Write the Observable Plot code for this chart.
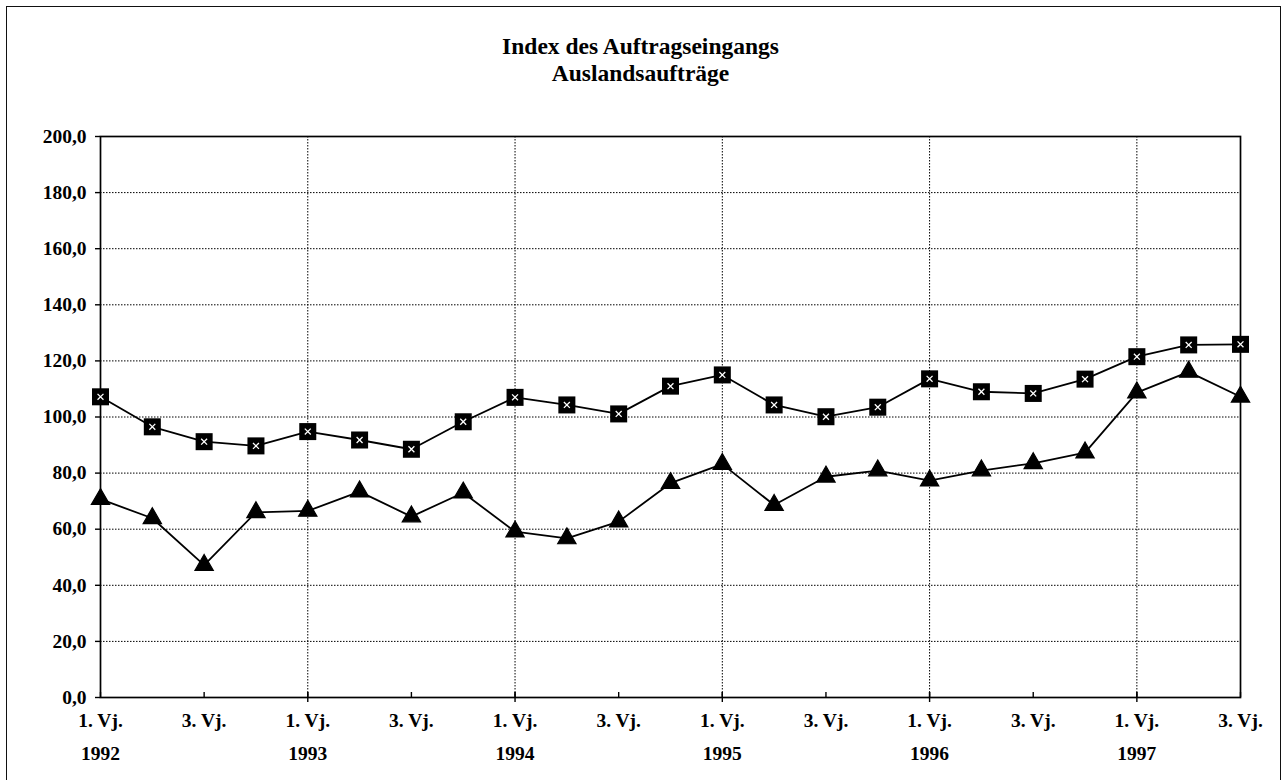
<!DOCTYPE html>
<html>
<head>
<meta charset="utf-8">
<script src="https://cdn.jsdelivr.net/npm/d3@7"></script>
<script src="https://cdn.jsdelivr.net/npm/@observablehq/plot@0.6"></script>
<style>
  html, body { margin: 0; padding: 0; background: #fff; }
  #wrap { position: relative; width: 1283px; height: 780px; overflow: hidden; }
  #border { position: absolute; left: 6px; top: 6px; width: 1275px; height: 790px; border: 1.5px solid #111; box-sizing: border-box; pointer-events: none; }
  #chart { position: absolute; left: 0; top: 0; }
</style>
</head>
<body>
<div id="wrap"><div id="chart"></div><div id="border"></div></div>
<script>
const titleLine1 = "Index des Auftragseingangs";
const titleLine2 = "Auslandsaufträge";

// 23 quarters: 1. Vj. 1992 ... 3. Vj. 1997
const quarterIndex = d3.range(23);

const seriesSquare = [107.2, 96.5, 91.2, 89.7, 94.8, 91.8, 88.5, 98.3, 107.0, 104.3, 101.1, 111.0,
  115.0, 104.3, 100.1, 103.5, 113.6, 109.0, 108.4, 113.5, 121.5, 125.7, 125.9];
const seriesTriangle = [70.7, 63.9, 47.2, 66.0, 66.5, 73.4, 64.5, 73.0, 59.1, 56.7, 62.7, 76.4,
  83.2, 68.6, 78.7, 80.9, 77.3, 80.9, 83.5, 87.3, 108.7, 116.1, 107.2];

const xTicks = [0, 2, 4, 6, 8, 10, 12, 14, 16, 18, 20, 22];
const xTickLabels = ["1. Vj.\n1992", "3. Vj.", "1. Vj.\n1993", "3. Vj.", "1. Vj.\n1994", "3. Vj.",
  "1. Vj.\n1995", "3. Vj.", "1. Vj.\n1996", "3. Vj.", "1. Vj.\n1997", "3. Vj."];
const yearTicks = [4, 8, 12, 16, 20];
const yTicks = [0, 20, 40, 60, 80, 100, 120, 140, 160, 180, 200];
const yTickLabels = ["0,0", "20,0", "40,0", "60,0", "80,0", "100,0", "120,0", "140,0", "160,0", "180,0", "200,0"];
const yGrid = [20, 40, 60, 80, 100, 120, 140, 160, 180];

const sq = quarterIndex.map(i => ({q: i, v: seriesSquare[i]}));
const tr = quarterIndex.map(i => ({q: i, v: seriesTriangle[i]}));

const font = "'Liberation Serif', 'Times New Roman', serif";

const chart = Plot.plot({
  width: 1283,
  height: 780,
  marginLeft: 100,
  marginRight: 43,
  marginTop: 136,
  marginBottom: 83,
  style: {fontFamily: font, fontWeight: "bold", fontSize: "19px", color: "#000", background: "transparent"},
  x: {type: "linear", domain: [0, 22]},
  y: {domain: [0, 200]},
  marks: [
    Plot.ruleY(yGrid, {stroke: "#000", strokeWidth: 1, strokeDasharray: "1.5,1.5"}),
    Plot.ruleX(yearTicks, {stroke: "#000", strokeWidth: 1, strokeDasharray: "1.5,1.5"}),
    Plot.frame({stroke: "#000", strokeWidth: 1.7}),
    Plot.ruleX(xTicks, {x: d => d, y1: 0, y2: 0, insetTop: -5, stroke: "#000", strokeWidth: 1.4}),
    Plot.ruleX(yearTicks, {x: d => d, y1: 0, y2: 0, insetTop: -5, insetBottom: -5, stroke: "#000", strokeWidth: 1.4}),
    Plot.axisY({ticks: yTicks, tickFormat: d => yTickLabels[yTicks.indexOf(d)], tickSize: 5, tickPadding: 9,
      fontSize: 19.5, fontWeight: "bold", fontFamily: font, label: null, strokeWidth: 1.4}),
    Plot.axisX({ticks: xTicks, tickFormat: d => xTickLabels[xTicks.indexOf(d)], tickSize: 0, tickPadding: 7,
      fontSize: 19.5, fontWeight: "bold", fontFamily: font, lineHeight: 1.65, label: null}),
    Plot.line(sq, {x: "q", y: "v", stroke: "#000", strokeWidth: 1.8}),
    Plot.line(tr, {x: "q", y: "v", stroke: "#000", strokeWidth: 1.8}),
    Plot.dot(sq, {x: "q", y: "v", symbol: "square", r: 9.6, fill: "#000", stroke: "none"}),
    Plot.dot(sq, {x: "q", y: "v", symbol: "times", r: 2.8, stroke: "#fff", strokeWidth: 1.3}),
    Plot.dot(tr, {x: "q", y: "v", symbol: "triangle", r: 6.8, fill: "#000", stroke: "#000", strokeWidth: 1.2}),
    Plot.text([titleLine1], {text: d => d, frameAnchor: "top", lineAnchor: "bottom", dx: -30, dy: -83,
      fontSize: 23.5, fontWeight: "bold", fontFamily: font, fill: "#000"}),
    Plot.text([titleLine2], {text: d => d, frameAnchor: "top", lineAnchor: "bottom", dx: -30, dy: -56,
      fontSize: 23.5, fontWeight: "bold", fontFamily: font, fill: "#000"})
  ]
});
document.getElementById("chart").appendChild(chart);
</script>
</body>
</html>
